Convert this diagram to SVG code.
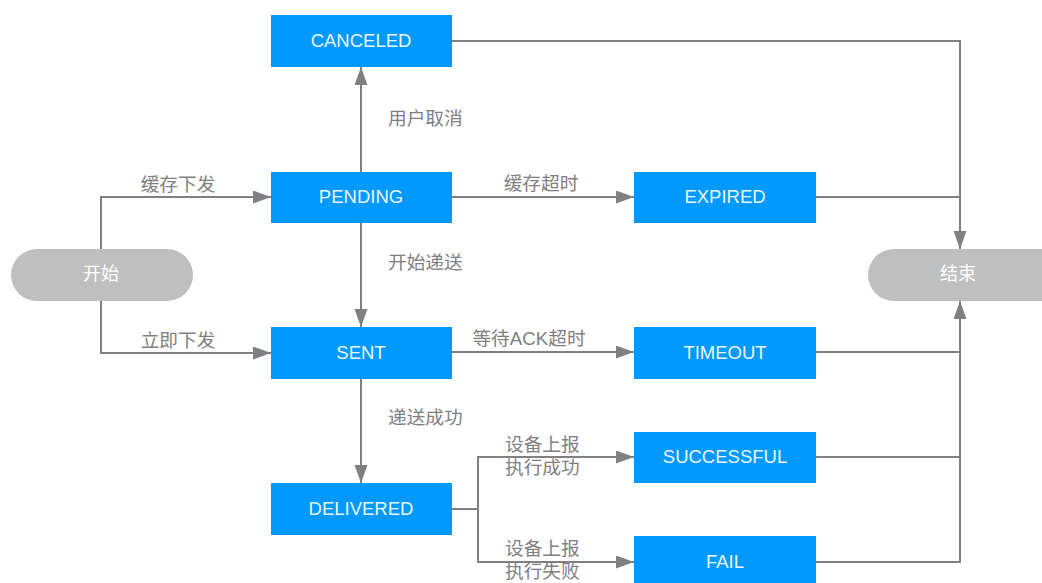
<svg xmlns="http://www.w3.org/2000/svg" width="1042" height="583" viewBox="0 0 1042 583">
  <style>
    .box { fill: #0099FF; }
    .pill { fill: #BFBFBF; }
    .boxText { font-family: "Liberation Sans", Arial, sans-serif; font-size: 18.5px; fill: #EAF6FF; text-anchor: middle; dominant-baseline: central; }
    .pillText { font-family: "Liberation Sans", "Noto Sans CJK SC", sans-serif; font-size: 18px; fill: #FFFFFF; text-anchor: middle; dominant-baseline: central; }
    .label { font-family: "Liberation Sans", "Noto Sans CJK SC", sans-serif; font-size: 18.7px; fill: #808080; dominant-baseline: central; }
    .mid { text-anchor: middle; }
    .edge { fill: none; stroke: #808080; stroke-width: 2; }
    .arrow { marker-end: url(#head); }
  </style>
  <defs>
    <marker id="head" markerUnits="userSpaceOnUse" markerWidth="18" markerHeight="14" refX="18" refY="6.5" orient="auto">
      <path d="M0,0 L18,6.5 L0,13 Z" fill="#808080"/>
    </marker>
  </defs>
  <rect width="1042" height="583" fill="#FFFFFF"/>

  <!-- connectors -->
  <g id="connectors">
    <path class="edge arrow" d="M101,249 V197 H271"/>
    <path class="edge arrow" d="M101,301 V353 H271"/>
    <path class="edge arrow" d="M361,172 V67"/>
    <path class="edge arrow" d="M361,223 V327"/>
    <path class="edge arrow" d="M361,379 V483"/>
    <path class="edge arrow" d="M452,197 H634"/>
    <path class="edge arrow" d="M452,352 H634"/>
    <path class="edge" d="M452,509 H478"/>
    <path class="edge arrow" d="M478,509 V457 H634"/>
    <path class="edge arrow" d="M478,509 V562 H634"/>
    <path class="edge arrow" d="M452,41 H960 V249"/>
    <path class="edge" d="M816,197 H960"/>
    <path class="edge arrow" d="M816,562 H960 V301"/>
    <path class="edge" d="M816,352 H960"/>
    <path class="edge" d="M816,457 H960"/>

    <text class="label mid" x="178" y="184">缓存下发</text>
    <text class="label mid" x="178" y="340">立即下发</text>
    <text class="label" x="388" y="118">用户取消</text>
    <text class="label" x="388" y="262">开始递送</text>
    <text class="label" x="388" y="417">递送成功</text>
    <text class="label mid" x="541" y="183">缓存超时</text>
    <text class="label mid" x="529" y="338">等待ACK超时</text>
    <text class="label" x="505" y="444">设备上报</text>
    <text class="label" x="505" y="467">执行成功</text>
    <text class="label" x="505" y="548">设备上报</text>
    <text class="label" x="505" y="571">执行失败</text>
  </g>

  <g id="start">
    <rect class="pill" x="11" y="249" width="182" height="52" rx="26"/>
    <text class="pillText" x="101" y="274">开始</text>
  </g>
  <g id="end">
    <rect class="pill" x="868" y="249" width="200" height="52" rx="26"/>
    <text class="pillText" x="958" y="274">结束</text>
  </g>

  <g id="canceled">
    <rect class="box" x="271" y="15" width="181" height="52"/>
    <text class="boxText" x="361" y="40">CANCELED</text>
  </g>
  <g id="pending">
    <rect class="box" x="271" y="172" width="181" height="51"/>
    <text class="boxText" x="361" y="196">PENDING</text>
  </g>
  <g id="sent">
    <rect class="box" x="271" y="327" width="181" height="52"/>
    <text class="boxText" x="361" y="352">SENT</text>
  </g>
  <g id="delivered">
    <rect class="box" x="271" y="483" width="181" height="52"/>
    <text class="boxText" x="361" y="508">DELIVERED</text>
  </g>
  <g id="expired">
    <rect class="box" x="634" y="172" width="182" height="51"/>
    <text class="boxText" x="725" y="196">EXPIRED</text>
  </g>
  <g id="timeout">
    <rect class="box" x="634" y="327" width="182" height="52"/>
    <text class="boxText" x="725" y="352">TIMEOUT</text>
  </g>
  <g id="successful">
    <rect class="box" x="634" y="432" width="182" height="51"/>
    <text class="boxText" x="725" y="456">SUCCESSFUL</text>
  </g>
  <g id="fail">
    <rect class="box" x="634" y="536" width="182" height="52"/>
    <text class="boxText" x="725" y="561">FAIL</text>
  </g>
</svg>
